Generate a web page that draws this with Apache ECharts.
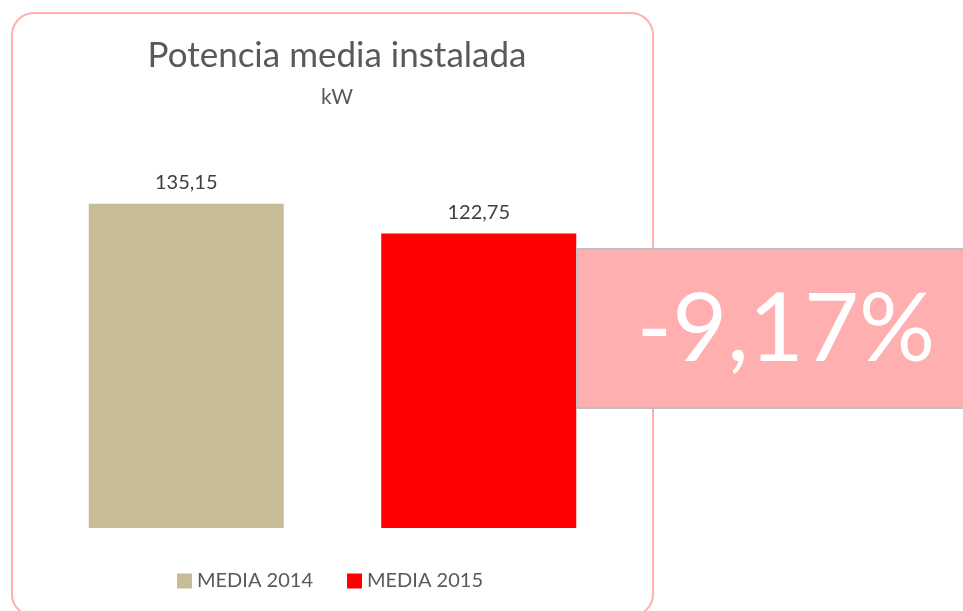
<!DOCTYPE html>
<html>
<head>
<meta charset="utf-8">
<script src="https://cdn.jsdelivr.net/npm/echarts@6/dist/echarts.min.js"></script>
<style>
  html, body { margin: 0; padding: 0; background: #fff; }
  #main { width: 963px; height: 611px; }
</style>
</head>
<body>
<div id="main"></div>
<script>
// datos del grafico
var series_names = ['MEDIA 2014', 'MEDIA 2015'];
var values = [135.15, 122.75];
var colors = ['#c6bd97', '#ff0000'];
var variation = '-9,17%';

function fmt(v){
    return v.toFixed(2).replace('.', ',');
}

var myChart = echarts.init(document.getElementById('main'));
var seriesList = [];
for (let i = 0; i < series_names.length; i++) {
    let data = [null, null];
    data[i] = values[i];
    seriesList.push({
        name: series_names[i],
        type: 'bar',
        stack: 'a',
        barWidth: 195,
        itemStyle: { color: colors[i] },
        label: {
            show: true,
            position: 'top',
            distance: 11,
            color: '#404040',
            fontSize: 20,
            fontFamily: 'Lato',
            formatter: function(p){ return fmt(p.value); }
        },
        data: data
    });
}

var option = {
    animation: false,
    title: {
        text: 'Potencia media instalada',
        subtext: 'kW',
        left: 332,
        top: 33,
        textAlign: 'center',
        itemGap: 14,
        textStyle: { color: '#595959', fontSize: 35, fontWeight: 'normal', fontFamily: 'Lato' },
        subtextStyle: { color: '#595959', fontSize: 21, fontFamily: 'Lato' }
    },
    legend: {
        top: 566,
        left: 172,
        icon: 'rect',
        itemWidth: 15,
        itemHeight: 15,
        itemGap: 34,
        textStyle: { color: '#595959', fontSize: 20, fontFamily: 'Lato' },
        data: series_names
    },
    grid: { left: 40, right: 338, top: 168, bottom: 83 },
    xAxis: {
        type: 'category',
        data: ['', ''],
        axisLine: { show: false },
        axisTick: { show: false },
        axisLabel: { show: false }
    },
    yAxis: {
        type: 'value',
        min: 0,
        max: 150,
        show: false,
        splitLine: { show: false }
    },
    series: seriesList,
    graphic: [
        {
            type: 'rect',
            z: -1,
            shape: { x: 12, y: 13, width: 641, height: 603, r: 22 },
            style: { fill: 'none', stroke: '#ffb0b0', lineWidth: 2 }
        },
        {
            type: 'rect',
            z: 10,
            shape: { x: 577, y: 249, width: 420, height: 159 },
            style: { fill: '#ffafaf', stroke: '#bfbfbf', lineWidth: 2 }
        },
        {
            type: 'text',
            z: 11,
            x: 786,
            y: 330,
            style: {
                text: variation,
                fill: '#ffffff',
                fontSize: 95,
                fontFamily: 'Lato',
                align: 'center',
                verticalAlign: 'middle'
            }
        }
    ]
};
myChart.setOption(option);
</script>
</body>
</html>
